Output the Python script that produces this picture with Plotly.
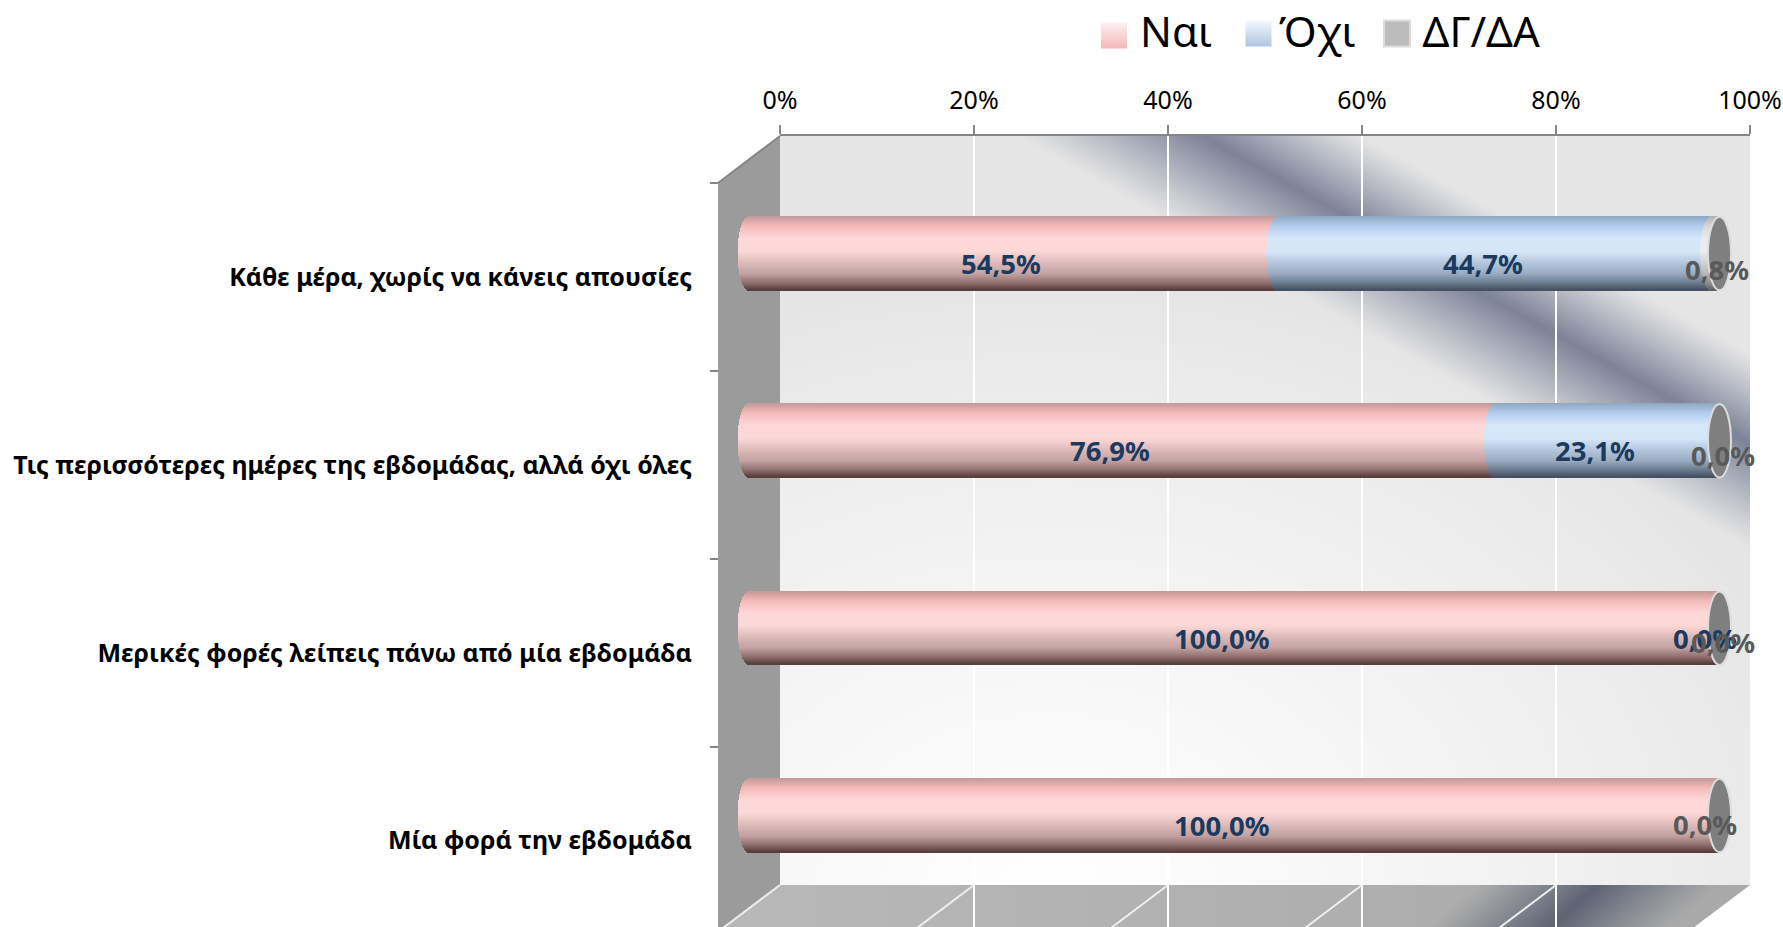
import base64, struct, zlib
import numpy as np
import plotly.graph_objects as go

# ---------- data ----------
categories = ["Κάθε μέρα, χωρίς να κάνεις απουσίες",
              "Τις περισσότερες ημέρες της εβδομάδας, αλλά όχι όλες",
              "Μερικές φορές λείπεις πάνω από μία εβδομάδα",
              "Μία φορά την εβδομάδα"]
series_names = ["Ναι", "Όχι", "ΔΓ/ΔΑ"]
nai = [54.5, 76.9, 100.0, 100.0]
oxi = [44.7, 23.1, 0.0, 0.0]
dgda = [0.8, 0.0, 0.0, 0.0]
axis_ticks = [0, 20, 40, 60, 80, 100]

W, H = 1783, 927
FONT = "Noto Sans"

# ---------- geometry of the 3-D box (pixels) ----------
WALL_L, WALL_R, WALL_T, WALL_B = 780, 1750, 136, 885
SIDE_L, SIDE_T = 718, 183
FRONT_L, FRONT_R = 749, 1719.5
ROW0_PX, ROW_STEP = 253.5, 187.33
BAR_PX = 73.5
LABEL_ROW0_PX = 279
CAP_RX = 11.5
# the plane of the bars runs a little wider than the bars so the rounded ends are not clipped
PLANE_L, PLANE_R = 700, 1760


def fx(px):
    return px / W


def fy(px):
    return 1 - px / H


# ---------- background rasters (smooth, so low resolution is enough) ----------
def png_uri(arr):
    h, w = arr.shape[:2]
    raw = b"".join(b"\x00" + arr[r].tobytes() for r in range(h))

    def chunk(t, b):
        return struct.pack(">I", len(b)) + t + b + struct.pack(">I", zlib.crc32(t + b) & 0xFFFFFFFF)

    png = (b"\x89PNG\r\n\x1a\n" + chunk(b"IHDR", struct.pack(">IIBBBBB", w, h, 8, 2, 0, 0, 0))
           + chunk(b"IDAT", zlib.compress(raw, 9)) + chunk(b"IEND", b""))
    return "data:image/png;base64," + base64.b64encode(png).decode()


def band(xx, yy, px, py, dirx, diry, half_a, half_b):
    L = np.hypot(dirx, diry)
    d = ((xx - px) * diry - (yy - py) * dirx) / L
    half = np.where(d >= 0, half_a, half_b)
    t = np.clip(1 - np.abs(d) / half, 0, 1)
    return t ** 1.1


def mix(base, color, a):
    return base * (1 - a[..., None]) + np.array(color, float) * a[..., None]


def raster(x0, y0, x1, y1, fn, step=4):
    xs = np.arange(x0, x1 + step, step)
    ys = np.arange(y0, y1 + step, step)
    xx, yy = np.meshgrid(xs, ys)
    return np.clip(fn(xx, yy) + 0.5, 0, 255).astype(np.uint8)


def wall_fn(xx, yy):
    d = np.sqrt(((xx - 1050) / 800) ** 2 + ((yy - 900) / 620) ** 2)
    v = 0xE5 + (0xFF - 0xE5) * np.clip(1 - d, 0, 1) ** 0.8
    return mix(np.stack([v, v, v], -1), (0x7C, 0x83, 0x98), band(xx, yy, 1207, 136, 536, 302, 78, 92))


def floor_fn(xx, yy):
    v = 0xB8 - (0xB8 - 0xA9) * np.clip((xx - 723) / 1000, 0, 1)
    return mix(np.stack([v, v, v], -1), (0x5E, 0x64, 0x74), band(xx, yy, 1600, 885, -43, 42, 85, 85))


wall_uri = png_uri(raster(WALL_L, WALL_T, WALL_R, WALL_B, wall_fn))
floor_uri = png_uri(raster(WALL_L - 60, WALL_B, WALL_R, H, floor_fn))

# ---------- cylinder shading ----------
STOPS = [0, 0.14, 0.3, 0.48, 0.62, 0.78, 0.9, 1]
PINK = [(0xC4, 0x98, 0x98), (0xF4, 0xBB, 0xBB), (0xFF, 0xD8, 0xD8), (0xFB, 0xD8, 0xD6),
        (0xE0, 0xBC, 0xBC), (0xC4, 0xA2, 0xA2), (0x93, 0x70, 0x70), (0x55, 0x3A, 0x3A)]
BLUE = [(0x8E, 0xA6, 0xC0), (0xB4, 0xCE, 0xEE), (0xD6, 0xE7, 0xFB), (0xD6, 0xE6, 0xF9),
        (0xB6, 0xC9, 0xDF), (0x98, 0xAB, 0xC1), (0x6D, 0x7C, 0x90), (0x44, 0x4E, 0x5E)]
GREY = [(0xB0, 0xB0, 0xB0), (0xD8, 0xD8, 0xD8), (0xEC, 0xEC, 0xEC), (0xEC, 0xEC, 0xEC),
        (0xD4, 0xD4, 0xD4), (0xB8, 0xB8, 0xB8), (0x90, 0x90, 0x90), (0x60, 0x60, 0x60)]


def shade(stops, t):
    c = [np.interp(t, STOPS, [s[i] for s in stops]) for i in range(3)]
    return "rgb(%d,%d,%d)" % tuple(round(x) for x in c)


rows = list(range(len(categories)))
row_unit = ROW_STEP  # px per row
front_unit = (FRONT_R - FRONT_L) / 100.0  # px per %
N_STRIPS = 74
plane_range = [(PLANE_L - FRONT_L) / front_unit, (PLANE_R - FRONT_L) / front_unit]

fig = go.Figure()

# dummy traces so that each axis pair exists
fig.add_trace(go.Scatter(x=[None], y=[None], xaxis="x", yaxis="y", showlegend=False, hoverinfo="skip"))
fig.add_trace(go.Scatter(x=[None], y=[None], xaxis="x", yaxis="y3", showlegend=False, hoverinfo="skip"))

starts = np.zeros(4)
for name, vals, ramp in zip(series_names, [nai, oxi, dgda], [PINK, BLUE, GREY]):
    vals = np.array(vals, float)
    for k in range(N_STRIPS):
        t = (k + 0.5) / N_STRIPS
        bulge = CAP_RX * np.sqrt(max(0, 1 - (2 * t - 1) ** 2)) / front_unit
        off = (t - 0.5) * BAR_PX / row_unit
        h = (BAR_PX / N_STRIPS + 0.5) / row_unit
        fig.add_trace(go.Bar(
            orientation="h", xaxis="x2", yaxis="y2", y=rows,
            x=[v if v > 0 else None for v in vals], base=starts - bulge,
            width=h, offset=off - h / 2,
            marker=dict(color=shade(ramp, t), line=dict(width=0)),
            showlegend=False, hoverinfo="skip"))
    starts = starts + vals

# legend: real entries, with larger gradient swatches drawn behind them
LEG_SW_X = [1114, 1258.5, 1397]
LEG_SW_Y = [35.5, 33.5, 33.5]
LEG_COLS = [("#fff1f1", "#f3b8b8"), ("#f5f8fc", "#aec6e2"), ("#bcbcbc", "#bcbcbc")]
for name in series_names:
    fig.add_trace(go.Scatter(x=[None], y=[None], mode="markers", name=name, xaxis="x", yaxis="y",
                             marker=dict(symbol="square", size=16, color="rgba(0,0,0,0)")))
for sx, sy, (c0, c1), lw in zip(LEG_SW_X, LEG_SW_Y, LEG_COLS, [0, 0, 2]):
    fig.add_trace(go.Scatter(x=[sx], y=[sy], xaxis="x3", yaxis="y4", mode="markers", showlegend=False,
                             hoverinfo="skip",
                             marker=dict(symbol="square", size=26, color=c0,
                                         gradient=dict(type="vertical", color=c1),
                                         line=dict(width=lw, color="#dcdcdc"))))

# ---------- data labels ----------
BLUE_TXT, GREY_TXT = "#1b3a60", "#595959"
label_font = dict(family=FONT, size=27.5)


def lab(x, row, value, color, xs=-12, ys=10):
    fig.add_annotation(xref="x2", yref="y2", x=x, y=row, text="<b>%s%%</b>" % ("%.1f" % value).replace(".", ","),
                       showarrow=False, xshift=xs, yshift=-ys,
                       font=dict(label_font, color=color))


cum = np.cumsum([nai, oxi, dgda], axis=0)
for r in rows:
    lab(nai[r] / 2, r, nai[r], BLUE_TXT)
    if oxi[r] > 0:
        lab(nai[r] + oxi[r] / 2, r, oxi[r], BLUE_TXT)
lab(100, 2, oxi[2], BLUE_TXT, xs=-15)
lab(cum[1][0] + dgda[0] / 2, 0, dgda[0], GREY_TXT, xs=1, ys=16)
lab(100, 1, dgda[1], GREY_TXT, xs=3, ys=15)
lab(100, 2, dgda[2], GREY_TXT, xs=3, ys=14)
lab(100, 3, dgda[3], GREY_TXT, xs=-15, ys=9)

# ---------- shapes ----------
shapes = []


def poly(pts, color):
    path = "M" + " L".join("%.5f,%.5f" % (fx(a), fy(b)) for a, b in pts) + " Z"
    return dict(type="path", xref="paper", yref="paper", layer="below", path=path,
                fillcolor=color, line=dict(width=0))


# side wall and the mask at the right end of the floor
shapes.append(poly([(SIDE_L, SIDE_T), (WALL_L, WALL_T), (WALL_L, WALL_B), (WALL_L - 57, H + 1), (SIDE_L, H + 1)], "#9b9b9b"))
shapes.append(poly([(WALL_R, WALL_B), (WALL_R + 6, WALL_B), (WALL_R + 6, H + 1), (WALL_R - 57, H + 1)], "#ffffff"))
# end caps of the cylinders
rx = CAP_RX / front_unit
for r in rows:
    hh = BAR_PX / 2 / row_unit
    shapes.append(dict(type="circle", xref="x2", yref="y2", layer="above",
                       x0=100 - rx, x1=100 + rx, y0=r - hh, y1=r + hh,
                       fillcolor="#7f7f7f", line=dict(color="#dcdcdc", width=2)))
# floor grid lines + top edge of the side wall
step = (WALL_R - WALL_L) / 100.0
for v in axis_ticks[:-1]:
    px = WALL_L + v * step
    shapes.append(dict(type="line", xref="paper", yref="paper", layer="below",
                       x0=fx(px), y0=fy(WALL_B), x1=fx(px - 57), y1=fy(H + 1),
                       line=dict(color="#eeeeee", width=2)))
shapes.append(dict(type="line", xref="paper", yref="paper", layer="below",
                   x0=fx(SIDE_L), y0=fy(SIDE_T), x1=fx(WALL_L), y1=fy(WALL_T),
                   line=dict(color="#868686", width=2)))

fig.update_layout(
    width=W, height=H, margin=dict(l=0, r=0, t=0, b=0, pad=0, autoexpand=False), autosize=False,
    paper_bgcolor="white", plot_bgcolor="rgba(0,0,0,0)",
    barmode="overlay", bargap=0,
    font=dict(family=FONT, color="#000000"),
    images=[dict(source=wall_uri, xref="paper", yref="paper", x=fx(WALL_L), y=fy(WALL_T),
                 sizex=fx(WALL_R) - fx(WALL_L), sizey=fy(WALL_T) - fy(WALL_B),
                 sizing="stretch", layer="below", xanchor="left", yanchor="top"),
            dict(source=floor_uri, xref="paper", yref="paper", x=fx(WALL_L - 60), y=fy(WALL_B),
                 sizex=fx(WALL_R) - fx(WALL_L - 60), sizey=fy(WALL_B) - fy(H),
                 sizing="stretch", layer="below", xanchor="left", yanchor="top")],
    shapes=shapes,
    legend=dict(orientation="h", x=fx(1078), y=fy(-3), xanchor="left", yanchor="top",
                font=dict(family=FONT, size=42), bgcolor="rgba(0,0,0,0)",
                itemwidth=52, traceorder="normal"),
    # percent axis on the back wall
    xaxis=dict(domain=[fx(WALL_L), fx(WALL_R)], range=[0, 100], anchor="y", side="top",
               tickmode="array", tickvals=axis_ticks, ticktext=["%d%%" % t for t in axis_ticks],
               tickfont=dict(family=FONT, size=25, color="#000000"),
               ticks="outside", ticklen=9, tickwidth=2, tickcolor="#868686", ticklabelstandoff=6,
               showline=True, linecolor="#868686", linewidth=2,
               showgrid=True, gridcolor="#ffffff", gridwidth=2, zeroline=False, fixedrange=True),
    yaxis=dict(domain=[fy(WALL_B), fy(WALL_T)], range=[0, 1], anchor="x", visible=False, fixedrange=True),
    # plane of the bars
    xaxis2=dict(domain=[fx(PLANE_L), fx(PLANE_R)], range=plane_range, anchor="y2",
                visible=False, fixedrange=True),
    yaxis2=dict(domain=[0, 1], range=[(H - ROW0_PX) / ROW_STEP, -ROW0_PX / ROW_STEP], anchor="x2",
                visible=False, fixedrange=True),
    # category axis on the side wall
    yaxis3=dict(domain=[0, fy(SIDE_T)], range=[(H - LABEL_ROW0_PX) / ROW_STEP, -0.5], anchor="free",
                position=fx(SIDE_L), side="left",
                tickmode="array", tickvals=rows, ticktext=["<b>%s</b>" % c for c in categories],
                tickfont=dict(family=FONT, size=25, color="#000000"),
                ticks="", ticklabelstandoff=26,
                minor=dict(tickmode="array", tickvals=[-0.5, 0.5, 1.5, 2.5], ticks="outside",
                           ticklen=8, tickwidth=2, tickcolor="#868686"),
                showline=False, showgrid=False, zeroline=False, fixedrange=True),
    # pixel frame for the legend swatches
    xaxis3=dict(domain=[0, 1], range=[0, W], anchor="y4", visible=False, fixedrange=True),
    yaxis4=dict(domain=[0, 1], range=[H, 0], anchor="x3", visible=False, fixedrange=True),
)

fig.write_html("out.html", config=dict(displayModeBar=False), post_script="document.body.style.margin='0';")
